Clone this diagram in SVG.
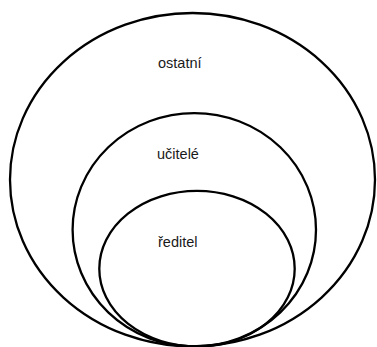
<svg xmlns="http://www.w3.org/2000/svg" width="377" height="347" viewBox="0 0 377 347">
<style>
.e{fill:none;stroke:#000;stroke-width:2.3}
.t{font-family:"Liberation Sans",Arial,sans-serif;font-size:14.5px;fill:#1a1a1a}
</style>
<rect width="377" height="347" fill="#fff"/>
<g id="ostatni"><ellipse class="e" cx="192.5" cy="179.7" rx="182.5" ry="166.7"/><text class="t" x="158" y="68">ostatní</text></g>
<g id="ucitele"><ellipse class="e" cx="194.3" cy="229.8" rx="121.7" ry="116.7"/><text class="t" x="157" y="159">učitelé</text></g>
<g id="reditel"><ellipse class="e" cx="197" cy="268.7" rx="97.7" ry="77.8"/><text class="t" x="158" y="247">ředitel</text></g>
<g id="connectors"/>
</svg>
